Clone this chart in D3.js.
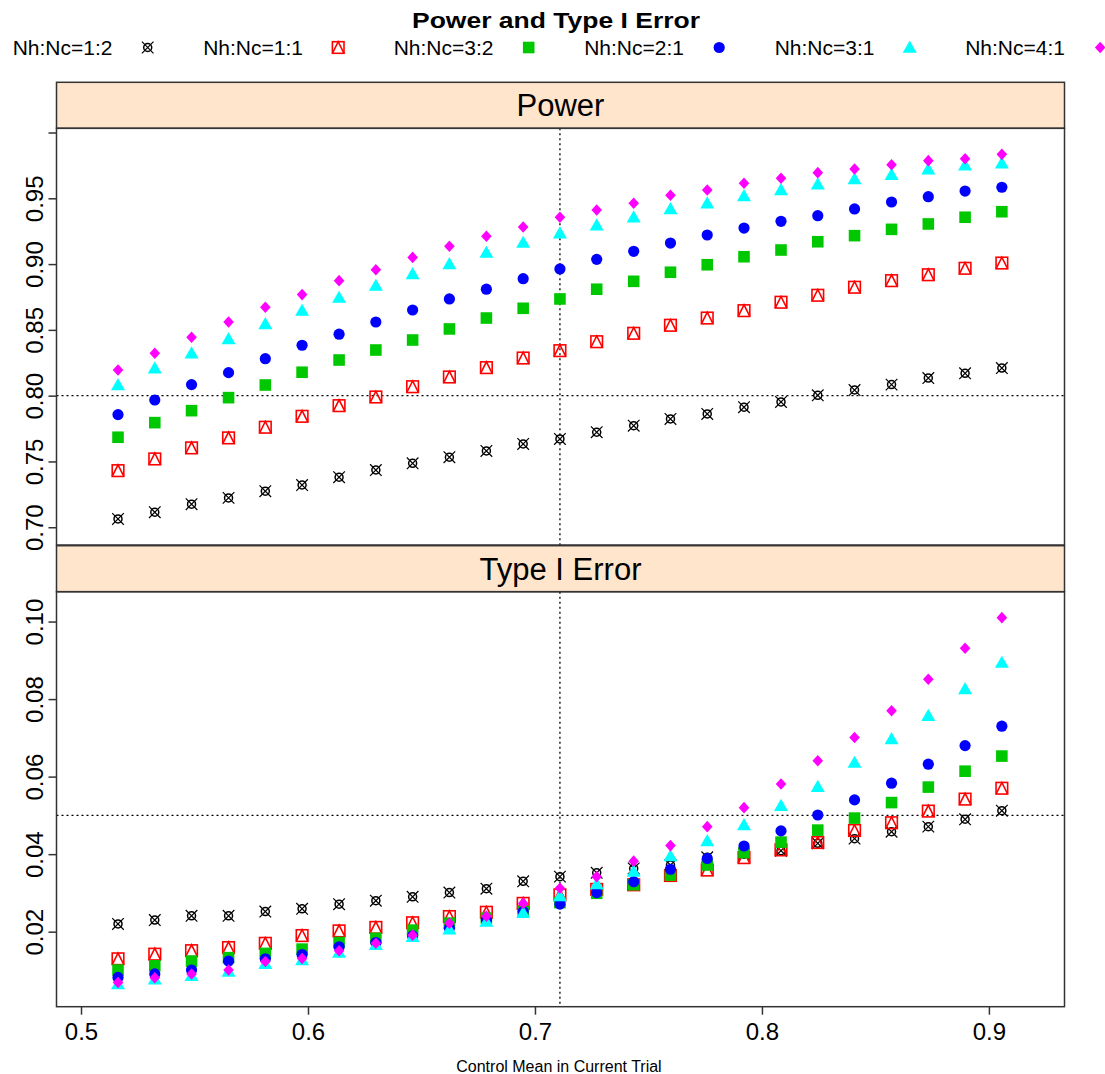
<!DOCTYPE html>
<html>
<head>
<meta charset="utf-8">
<script src="https://cdn.jsdelivr.net/npm/d3@7"></script>
<style>
  body { margin: 0; background: #fff; }
  svg { display: block; font-family: "Liberation Sans", Arial, sans-serif; }
</style>
</head>
<body>
<div id="main-frame"></div>
<script>
// control mean values (x)
const xVals = [0.5163, 0.5325, 0.5487, 0.5650, 0.5812, 0.5974, 0.6137, 0.6299, 0.6461, 0.6623,
  0.6786, 0.6948, 0.7110, 0.7272, 0.7435, 0.7597, 0.7759, 0.7921, 0.8084, 0.8246,
  0.8408, 0.8571, 0.8733, 0.8895, 0.9057];

const seriesLabels = ["Nh:Nc=1:2", "Nh:Nc=1:1", "Nh:Nc=3:2", "Nh:Nc=2:1", "Nh:Nc=3:1", "Nh:Nc=4:1"];
const seriesColors = ["#000000", "#ff0000", "#00c800", "#0000ff", "#00ffff", "#ff00ff"];
const seriesShapes = ["circleX", "squareTri", "square", "circle", "triangle", "diamond"];

// Power panel
const power12 = [0.7063, 0.7114, 0.7175, 0.7223, 0.7274, 0.7321, 0.7380, 0.7435, 0.7486, 0.7532,
  0.7580, 0.7633, 0.7671, 0.7722, 0.7772, 0.7823, 0.7861, 0.7912, 0.7952, 0.8003,
  0.8043, 0.8084, 0.8134, 0.8170, 0.8210];
const power11 = [0.7430, 0.7519, 0.7603, 0.7679, 0.7760, 0.7843, 0.7924, 0.7990, 0.8068, 0.8142,
  0.8213, 0.8286, 0.8342, 0.8410, 0.8474, 0.8535, 0.8590, 0.8646, 0.8710, 0.8763,
  0.8824, 0.8874, 0.8919, 0.8968, 0.9008];
const power32 = [0.7684, 0.7795, 0.7886, 0.7985, 0.8081, 0.8178, 0.8271, 0.8347, 0.8423, 0.8507,
  0.8590, 0.8664, 0.8735, 0.8809, 0.8869, 0.8938, 0.8995, 0.9056, 0.9107, 0.9170,
  0.9216, 0.9264, 0.9305, 0.9356, 0.9398];
const power21 = [0.7856, 0.7967, 0.8084, 0.8175, 0.8281, 0.8383, 0.8467, 0.8560, 0.8651, 0.8735,
  0.8809, 0.8889, 0.8963, 0.9036, 0.9097, 0.9160, 0.9221, 0.9274, 0.9325, 0.9368,
  0.9419, 0.9472, 0.9512, 0.9555, 0.9584];
const power31 = [0.8081, 0.8208, 0.8322, 0.8431, 0.8545, 0.8646, 0.8745, 0.8836, 0.8925, 0.9001,
  0.9087, 0.9163, 0.9234, 0.9295, 0.9356, 0.9419, 0.9462, 0.9517, 0.9563, 0.9606,
  0.9647, 0.9679, 0.9720, 0.9751, 0.9766];
const power41 = [0.8195, 0.8322, 0.8444, 0.8560, 0.8672, 0.8768, 0.8874, 0.8957, 0.9051, 0.9135,
  0.9211, 0.9282, 0.9356, 0.9411, 0.9462, 0.9523, 0.9563, 0.9614, 0.9652, 0.9695,
  0.9723, 0.9755, 0.9786, 0.9801, 0.9834];

// Type I error panel
const typeI12 = [0.0220, 0.0230, 0.0241, 0.0241, 0.0252, 0.0259, 0.0271, 0.0280, 0.0290, 0.0301,
  0.0311, 0.0330, 0.0342, 0.0352, 0.0363, 0.0372, 0.0392, 0.0400, 0.0409, 0.0428,
  0.0440, 0.0458, 0.0471, 0.0490, 0.0512];
const typeI11 = [0.0130, 0.0142, 0.0151, 0.0159, 0.0170, 0.0190, 0.0202, 0.0211, 0.0223, 0.0239,
  0.0250, 0.0273, 0.0295, 0.0309, 0.0321, 0.0345, 0.0359, 0.0391, 0.0411, 0.0430,
  0.0461, 0.0481, 0.0511, 0.0542, 0.0570];
const typeI32 = [0.0101, 0.0112, 0.0124, 0.0133, 0.0144, 0.0155, 0.0172, 0.0183, 0.0204, 0.0222,
  0.0235, 0.0252, 0.0275, 0.0299, 0.0321, 0.0346, 0.0372, 0.0404, 0.0431, 0.0462,
  0.0493, 0.0533, 0.0573, 0.0614, 0.0653];
const typeI21 = [0.0082, 0.0091, 0.0101, 0.0124, 0.0130, 0.0141, 0.0161, 0.0172, 0.0189, 0.0209,
  0.0230, 0.0252, 0.0271, 0.0301, 0.0329, 0.0361, 0.0389, 0.0421, 0.0460, 0.0501,
  0.0540, 0.0583, 0.0632, 0.0680, 0.0730];
const typeI31 = [0.0065, 0.0077, 0.0086, 0.0097, 0.0117, 0.0127, 0.0146, 0.0166, 0.0187, 0.0206,
  0.0226, 0.0249, 0.0292, 0.0323, 0.0355, 0.0395, 0.0434, 0.0475, 0.0525, 0.0574,
  0.0636, 0.0697, 0.0757, 0.0826, 0.0894];
const typeI41 = [0.0069, 0.0081, 0.0091, 0.0101, 0.0123, 0.0131, 0.0151, 0.0170, 0.0191, 0.0222,
  0.0240, 0.0273, 0.0312, 0.0342, 0.0382, 0.0422, 0.0471, 0.0520, 0.0581, 0.0641,
  0.0701, 0.0770, 0.0851, 0.0931, 0.1010];

const xTicks = [0.5, 0.6, 0.7, 0.8, 0.9];
const powerTicks = [0.70, 0.75, 0.80, 0.85, 0.90, 0.95, 1.00];
const typeITicks = [0.02, 0.04, 0.06, 0.08, 0.10];
const refX = 0.711;
const powerRef = 0.80;
const typeIRef = 0.05;

const panels = [
  { name: "Power", series: [power12, power11, power32, power21, power31, power41],
    domain: [0.6865, 1.0032], ticks: powerTicks, ref: powerRef, hideLabel: [1.00] },
  { name: "Type I Error", series: [typeI12, typeI11, typeI32, typeI21, typeI31, typeI41],
    domain: [0.00065, 0.1077], ticks: typeITicks, ref: typeIRef, hideLabel: [] }
];

const W = 1105, H = 1074;
const left = 56.5, right = 1064.5;
const stripH = 46;
const panelTops = [82.3, 545.7];
const panelH = [416.7, 415];
const frameColor = "#333";

const svg = d3.select("#main-frame")
  .append("svg")
  .attr("width", W)
  .attr("height", H);

const x = d3.scaleLinear()
  .domain([0.4892, 0.9333])
  .range([left, right]);

function markerPath(shape) {
  const p = d3.path();
  if (shape === "square") {
    p.rect(-5.8, -5.8, 11.6, 11.6);
  } else if (shape === "circle") {
    p.arc(0, 0, 5.6, 0, 2 * Math.PI);
  } else if (shape === "triangle") {
    p.moveTo(0, -7); p.lineTo(7, 5.2); p.lineTo(-7, 5.2); p.closePath();
  } else if (shape === "diamond") {
    p.moveTo(0, -5.8); p.lineTo(5.3, 0); p.lineTo(0, 5.8); p.lineTo(-5.3, 0); p.closePath();
  }
  return p.toString();
}

function drawMarker(g, shape, color) {
  if (shape === "circleX") {
    g.append("circle").attr("r", 4)
      .attr("fill", "none").attr("stroke", color).attr("stroke-width", 1.5);
    g.append("path").attr("d", "M-5.8,-5.8L5.8,5.8M-5.8,5.8L5.8,-5.8")
      .attr("stroke", color).attr("stroke-width", 1.2);
  } else if (shape === "squareTri") {
    g.append("rect").attr("x", -5.8).attr("y", -5.8).attr("width", 11.6).attr("height", 11.6)
      .attr("fill", "none").attr("stroke", color).attr("stroke-width", 1.6);
    g.append("path").attr("d", "M-5.8,5.8L0,-5.8L5.8,5.8")
      .attr("fill", "none").attr("stroke", color).attr("stroke-width", 1.6);
  } else {
    g.append("path").attr("d", markerPath(shape)).attr("fill", color);
  }
}

// title
svg.append("text")
  .attr("x", 556).attr("y", 28)
  .attr("text-anchor", "middle")
  .attr("font-size", 22).attr("font-weight", "bold")
  .attr("textLength", 288).attr("lengthAdjust", "spacingAndGlyphs")
  .text("Power and Type I Error");

// legend
const legend = svg.append("g");
seriesLabels.forEach((lab, i) => {
  const lx = 12.7 + i * 190.5;
  legend.append("text")
    .attr("x", lx).attr("y", 55)
    .attr("font-size", 21)
    .text(lab);
  drawMarker(legend.append("g").attr("transform", `translate(${lx + 135},47.5)`),
    seriesShapes[i], seriesColors[i]);
});

panels.forEach((pan, pi) => {
  const top = panelTops[pi];
  const plotTop = top + stripH;
  const plotBottom = plotTop + panelH[pi];

  const y = d3.scaleLinear()
    .domain(pan.domain)
    .range([plotBottom, plotTop]);

  // strip
  svg.append("rect")
    .attr("x", left).attr("y", top)
    .attr("width", right - left).attr("height", stripH)
    .attr("fill", "#ffe5cc").attr("stroke", frameColor).attr("stroke-width", 1.5);
  svg.append("text")
    .attr("x", (left + right) / 2).attr("y", top + stripH / 2 + 11)
    .attr("text-anchor", "middle")
    .attr("font-size", 31)
    .text(pan.name);

  // y axis
  const yAxis = d3.axisLeft(y)
    .tickValues(pan.ticks)
    .tickSize(8)
    .tickPadding(6)
    .tickFormat(d => pan.hideLabel.some(h => Math.abs(h - d) < 1e-9) ? "" : d3.format(".2f")(d));
  const ya = svg.append("g")
    .attr("transform", `translate(${left},0)`)
    .call(yAxis);
  ya.select(".domain").remove();
  ya.selectAll(".tick line").attr("stroke", frameColor).attr("stroke-width", 1.5);
  ya.selectAll(".tick text")
    .attr("font-size", 24)
    .attr("font-family", "'Liberation Sans', Arial, sans-serif")
    .attr("fill", "#000")
    .attr("text-anchor", "middle")
    .attr("dy", 0)
    .attr("x", 0)
    .attr("transform", "translate(-14,0) rotate(-90)");

  // reference lines
  svg.append("line")
    .attr("x1", left).attr("x2", right)
    .attr("y1", y(pan.ref)).attr("y2", y(pan.ref))
    .attr("stroke", "#000").attr("stroke-width", 1.3).attr("stroke-dasharray", "2,3");
  svg.append("line")
    .attr("x1", x(refX)).attr("x2", x(refX))
    .attr("y1", plotTop).attr("y2", plotBottom)
    .attr("stroke", "#000").attr("stroke-width", 1.3).attr("stroke-dasharray", "2,3");

  // points
  pan.series.forEach((vals, si) => {
    svg.append("g")
      .selectAll("g")
      .data(vals)
      .enter()
      .append("g")
      .attr("transform", (d, i) => `translate(${x(xVals[i])},${y(d)})`)
      .each(function () {
        drawMarker(d3.select(this), seriesShapes[si], seriesColors[si]);
      });
  });

  // frame
  svg.append("rect")
    .attr("x", left).attr("y", plotTop)
    .attr("width", right - left).attr("height", plotBottom - plotTop)
    .attr("fill", "none").attr("stroke", frameColor).attr("stroke-width", 1.5);

  if (pi === panels.length - 1) {
    const xAxis = d3.axisBottom(x)
      .tickValues(xTicks)
      .tickSize(8)
      .tickPadding(8)
      .tickFormat(d3.format(".1f"));
    const xa = svg.append("g")
      .attr("transform", `translate(0,${plotBottom})`)
      .call(xAxis);
    xa.select(".domain").remove();
    xa.selectAll(".tick line").attr("stroke", frameColor).attr("stroke-width", 1.5);
    xa.selectAll(".tick text")
      .attr("font-size", 24)
      .attr("font-family", "'Liberation Sans', Arial, sans-serif")
      .attr("fill", "#000");

    svg.append("text")
      .attr("x", x(0.7) + 24).attr("y", 1072)
      .attr("text-anchor", "middle")
      .attr("font-size", 16)
      .text("Control Mean in Current Trial");
  }
});
</script>
</body>
</html>
